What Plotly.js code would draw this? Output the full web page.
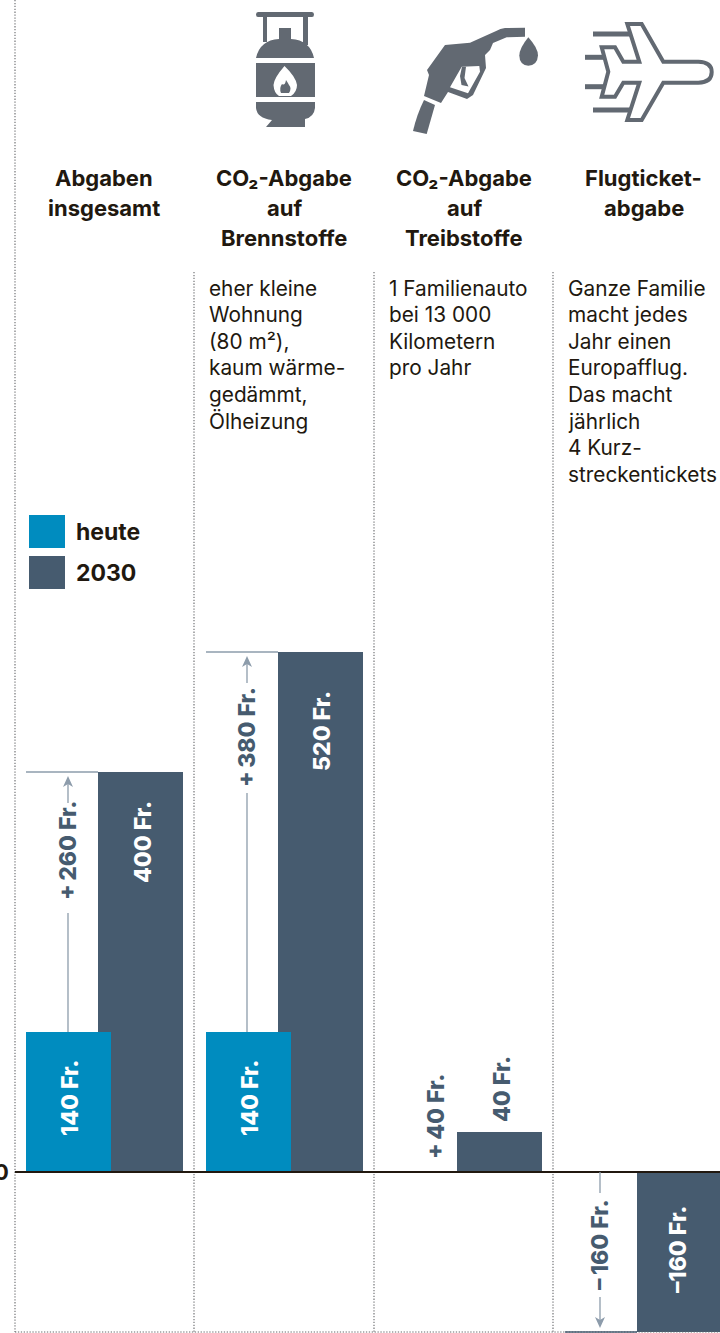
<!DOCTYPE html>
<html>
<head>
<meta charset="utf-8">
<script src="https://cdn.plot.ly/plotly-3.0.1.min.js"></script>
<style>
html,body{margin:0;padding:0;background:#fff;overflow:hidden}
#chart{width:720px;height:1333px}
</style>
</head>
<body>
<div id="chart"></div>
<script>
// Jährliche Abgaben einer Familie, heute und 2030
const today = [140, 140, 0, 0];
const in2030 = [400, 520, 40, -160];
const headings = [
  ["Abgaben", "insgesamt"],
  ["CO₂-Abgabe", "auf", "Brennstoffe"],
  ["CO₂-Abgabe", "auf", "Treibstoffe"],
  ["Flugticket-", "abgabe"]
];
const notes = [
  [],
  ["eher kleine", "Wohnung", "(80 m²),", "kaum wärme-", "gedämmt,", "Ölheizung"],
  ["1 Familienauto", "bei 13 000", "Kilometern", "pro Jahr"],
  ["Ganze Familie", "macht jedes", "Jahr einen", "Europafflug.", "Das macht", "jährlich", "4 Kurz-", "streckentickets"]
];
const legendLabels = ["heute", "2030"];

const BLUE = "#008cbf", SLATE = "#465b6f", INK = "#21180f", GUIDE = "#8d9cab", ICON = "#626972", DOT = "#66686b";
const W = 720, H = 1333, ZERO = 1172;
const BODY = "Inter, 'Noto Sans', sans-serif", LABEL = "Inter, 'Liberation Sans', sans-serif";

// the y axis runs at one pixel per franc, so page rows convert directly
const Y = row => ZERO - row;
const colStep = 180, barW = 85;
const todayX = i => 26 + colStep * i + barW / 2;
const laterX = i => 98 + colStep * i + (i >= 2 ? -1 : 0) + barW / 2;
const money = v => (v < 0 ? "–" + Math.abs(v) : v) + " Fr.";
const delta = v => (v < 0 ? "–\u2009" + Math.abs(v) : "+\u2009" + v) + " Fr.";

// converts an SVG path written in page pixels to axis coordinates
function path(d) {
  let isX = true;
  return d.replace(/-?\d+(\.\d+)?/g, n => {
    const out = isX ? n : String(Y(parseFloat(n)));
    isX = !isX;
    return out;
  });
}

const shapes = [];
const line = (x0, r0, x1, r1, color, width, dash) => shapes.push({
  type: "line", xref: "x", yref: "y", x0, x1, y0: Y(r0), y1: Y(r1),
  line: {color, width, dash: dash || "solid"}
});
const icon = (d, filled) => shapes.push({
  type: "path", xref: "x", yref: "y", path: path(d),
  fillcolor: filled ? ICON : "rgba(0,0,0,0)",
  line: filled ? {width: 0} : {color: ICON, width: 4}
});

// dotted column rules
const dots = "1.3px,1.6px";
line(15, 0, 15, 1332, DOT, 1.1, dots);
[194, 374, 553].forEach(x => line(x, 272, x, 1332, DOT, 1.1, dots));
line(15, 1332, 720, 1332, DOT, 1.1, dots);

// gas bottle
icon("M258 12 L312 12 Q314 12 314 14.5 Q314 17 312 17 L308 17 L308 45 L303 45 L303 17 L267 17 L267 42 L263 42 L263 17 L258 17 Q256 17 256 14.5 Q256 12 258 12 Z", true);
icon("M279 28 L291 28 L291 39 Q310 40 314 58 L256 58 Q260 40 279 39 Z", true);
icon("M256 63 L315 63 L315 97 L256 97 Z M284.5 66 Q274 78 273.5 85 Q274 93 279 96 L291 96 Q297 92 297 85 Q296 77 284.5 66 Z M286 80 Q285 86 282 84 Q279 88 281 93 L289 93 Q292 88 289 85 Q288 83 286 80 Z", true);
icon("M256 102 L315 102 L315 108 Q314 117 305 119 L305 120 L305 127 L266 127 L272 120 Q257 118 256 108 Z", true);

// fuel nozzle with drop
icon("M445 45 L470 42.7 L485 36 L496.7 30.7 Q500 28.5 505 28 L525 27.7 L525 36.7 L506.7 37.3 L493 43 L490 50 L485 55 L486 68 L473 95 L467 99 L448 92 L441 103 L424 96 L429 75 L427 70 Z M461.7 66.7 L479.3 66 L480 71.7 L468 93.3 L450 87.3 Z", true);
icon("M462 66.7 L466 66.7 L464.5 78 L468.5 86.5 L461.5 85 L460 76 Z", true);
icon("M424 100 L435 105 L426.7 134 L413 131 Q417 114 424 100 Z", true);
icon("M528.3 37.3 Q538 48 538 55.5 Q537.5 65 528.3 65.8 Q519.5 65 519.3 55.5 Q519.5 48 528.3 37.3 Z", true);

// aeroplane with speed lines
icon("M663.3 61.7 L698.3 61.7 Q711.7 62 711.7 72 Q711.7 82.5 698.3 82.7 L663.3 82.7 L641.7 120 L627.3 120 L639.3 82.7 L623.3 82.7 L615 96.7 L601.7 96.7 L608.3 71.7 L601.7 47.3 L615 47.3 L623.3 61.7 L639.3 61.7 L627.3 24 L641.7 24 Z", false);
[[593, 630, 34], [585, 603, 57.3], [585, 603, 86.7], [593, 630, 110]].forEach(s => line(s[0], s[2], s[1], s[2], ICON, 5));

// baseline
line(15, ZERO, W, ZERO, INK, 2);

// legend swatches
shapes.push({type: "rect", xref: "x", yref: "y", x0: 29, x1: 65, y0: Y(515), y1: Y(548), fillcolor: BLUE, line: {width: 0}});
shapes.push({type: "rect", xref: "x", yref: "y", x0: 29, x1: 65, y0: Y(556), y1: Y(589), fillcolor: SLATE, line: {width: 0}});

const annotations = [];
const text = (x, row, t, opts) => annotations.push(Object.assign({
  x, y: Y(row), xref: "x", yref: "y", text: t, showarrow: false, borderpad: 0, borderwidth: 0
}, opts));

// column headings, centred per line
const headCentre = [104, 284, 464, 643.5];
headings.forEach((lines, i) => lines.forEach((t, j) => text(headCentre[i], 178 + 30 * j, t, {
  xanchor: "center", yanchor: "middle", font: {family: BODY, size: 22, color: INK, weight: 700}
})));

// scenario notes, left aligned per line
const noteLeft = [0, 209, 389, 568];
notes.forEach((lines, i) => lines.forEach((t, j) => text(noteLeft[i], 288 + 26.6 * j, t, {
  xanchor: "left", yanchor: "middle", font: {family: BODY, size: 20.8, color: INK}
})));

legendLabels.forEach((t, i) => text(76, 532 + 41 * i, t, {
  xanchor: "left", yanchor: "middle", font: {family: BODY, size: 23, color: INK, weight: 700}
}));

text(1, ZERO, "0", {xanchor: "center", yanchor: "middle", font: {family: BODY, size: 22, color: INK, weight: 700}});

// rotated value labels
const vertical = (x, row, t, color) => text(x, row, t, {
  textangle: -90, xanchor: "center", yanchor: "middle",
  font: {family: LABEL, size: 23, color, weight: 800}
});
vertical(70, 1098, money(today[0]), "#ffffff");
vertical(250, 1098, money(today[1]), "#ffffff");
vertical(143, 842, money(in2030[0]), "#ffffff");
vertical(322, 731, money(in2030[1]), "#ffffff");
vertical(502, 1089, money(in2030[2]), SLATE);
vertical(678, 1250, money(in2030[3]), "#ffffff");
vertical(68, 851, delta(in2030[0] - today[0]), SLATE);
vertical(247, 737, delta(in2030[1] - today[1]), SLATE);
vertical(436, 1117, delta(in2030[2] - today[2]), SLATE);
vertical(600, 1245, delta(in2030[3] - today[3]), SLATE);

// difference brackets: stem from the current value, arrow ending at the 2030 value
const bracket = (x, i, stemEnd, arrowStart) => {
  const a = today[i], b = in2030[i], dir = Math.sign(b - a);
  shapes.push({type: "line", xref: "x", yref: "y", x0: x, x1: x, y0: a, y1: stemEnd, line: {color: GUIDE, width: 1.3}});
  shapes.push({type: "line", xref: "x", yref: "y", x0: x, x1: x, y0: arrowStart, y1: b - dir * 8, line: {color: GUIDE, width: 1.3}});
  const tip = b - dir * 4, back = b - dir * 15, notch = b - dir * 12;
  shapes.push({type: "path", xref: "x", yref: "y", fillcolor: GUIDE, line: {width: 0},
    path: `M${x} ${tip} L${x + 5} ${back} L${x} ${notch} L${x - 5} ${back} Z`});
  const left = i === 3 ? 565 : todayX(i) - barW / 2;
  shapes.push({type: "line", xref: "x", yref: "y", x0: left, x1: laterX(i) - barW / 2, y0: b, y1: b,
    line: {color: i === 3 ? SLATE : GUIDE, width: 1.3}});
};
bracket(68, 0, 259, 369);
bracket(247, 1, 379, 489);
bracket(600, 3, -21, -125);

const barsLater = {
  type: "bar", name: legendLabels[1], x: in2030.map((_, i) => laterX(i)), y: in2030,
  width: barW, marker: {color: SLATE, line: {width: 0}}, hoverinfo: "skip"
};
const barsToday = {
  type: "bar", name: legendLabels[0], x: today.map((_, i) => todayX(i)), y: today,
  width: barW, marker: {color: BLUE, line: {width: 0}}, hoverinfo: "skip"
};

Plotly.newPlot("chart", [barsLater, barsToday], {
  width: W, height: H,
  margin: {l: 0, r: 0, t: 0, b: 0, pad: 0},
  paper_bgcolor: "#fff", plot_bgcolor: "#fff",
  barmode: "overlay", showlegend: false,
  xaxis: {range: [0, W], visible: false, fixedrange: true},
  yaxis: {range: [ZERO - H, ZERO], visible: false, fixedrange: true, zeroline: false},
  shapes, annotations
}, {displayModeBar: false, staticPlot: true});
</script>
</body>
</html>
